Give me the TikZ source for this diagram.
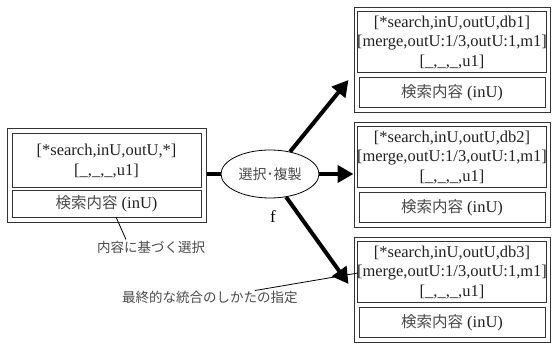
\documentclass[tikz,border=0pt]{standalone}
\usepackage{fontspec}
\setmainfont{Liberation Serif}
\newfontfamily\jp[Color=4A4A4A]{Noto Sans CJK JP}
\usetikzlibrary{arrows.meta,calc,shapes.geometric}
\definecolor{linec}{HTML}{333333}
\definecolor{txtc}{HTML}{222222}
\tikzset{
  outerbox/.style={draw=linec, line width=1pt, minimum width=196pt, minimum height=105pt, inner sep=0pt},
  upperbox/.style={draw=linec, line width=1pt, minimum width=186pt, minimum height=61pt, inner sep=0pt, align=center, text=txtc, font=\fontsize{16.5}{19.5}\selectfont},
  lowerbox/.style={draw=linec, line width=1pt, minimum width=186pt, minimum height=30pt, inner sep=0pt, text=txtc, font=\fontsize{16.5}{19.5}\selectfont},
  bigarrow/.style={line width=4pt, -{Triangle[length=16pt, width=17pt]}},
  thinline/.style={line width=0.8pt, draw=black},
  note/.style={font=\jp\fontsize{13.5}{16}\selectfont, inner sep=0pt}
}
\begin{document}
\begin{tikzpicture}[x=1pt,y=-1pt]
\useasboundingbox (0,0) rectangle (552,344);
% left box
\node[outerbox, minimum width=199pt, minimum height=94pt] (lout) at (106.5,176) {};
\node[upperbox, minimum width=189pt, minimum height=54pt] (lup) at (106.5,161) {[*search,inU,outU,*]\\{}[\_,\_,\_,u1]};
\node[lowerbox, minimum width=189pt, minimum height=27pt] (llow) at (106.5,204) {{\jp\fontsize{15.5}{18}\selectfont 検索内容} (inU)};
% ellipse
\node[draw=black, line width=0.8pt, ellipse, minimum width=98pt, minimum height=48pt, inner sep=0pt, font=\jp\fontsize{14}{16}\selectfont] (sel) at (270,174) {選択･複製};
\node[font=\fontsize{17}{19}\selectfont] (f) at (273,217) {f};
% right boxes
\foreach \i/\dy in {1/0,2/115,3/230}{
  \node[outerbox] (r\i) at (452,60+\dy) {};
  \node[upperbox] (r\i u) at (452,42.5+\dy) {[*search,inU,outU,db\i]\\{}[merge,outU:1/3,outU:1,m1]\\{}[\_,\_,\_,u1]};
  \node[lowerbox] (r\i l) at (452,93+\dy) {{\jp\fontsize{15.5}{18}\selectfont 検索内容} (inU)};
}
% connectors
\draw[line width=4pt] (lout.east |- sel.west) -- (sel.west);
\coordinate (t1) at ($(r1.south west)+(-5,-33)$);
\coordinate (t3) at ($(r3.north west)+(-5,47)$);
\draw[bigarrow] (sel.48) -- (t1);
\draw[bigarrow] (sel.east) -- (sel.east -| r2.west);
\draw[bigarrow] (sel.-55) -- (t3);
% annotations
\node[note, anchor=west] (n1) at (97,247) {内容に基づく選択};
\node[note, anchor=west] (n2) at (122,297) {最終的な統合のしかたの指定};
\coordinate (a1) at (116,217);
\coordinate (a2) at (358,273);
\draw[thinline] (a1) -- ($(n1.north west)+(29,-1)$);
\draw[thinline] ($(n2.north east)+(-43,0)$) -- (a2);
\end{tikzpicture}
\end{document}
